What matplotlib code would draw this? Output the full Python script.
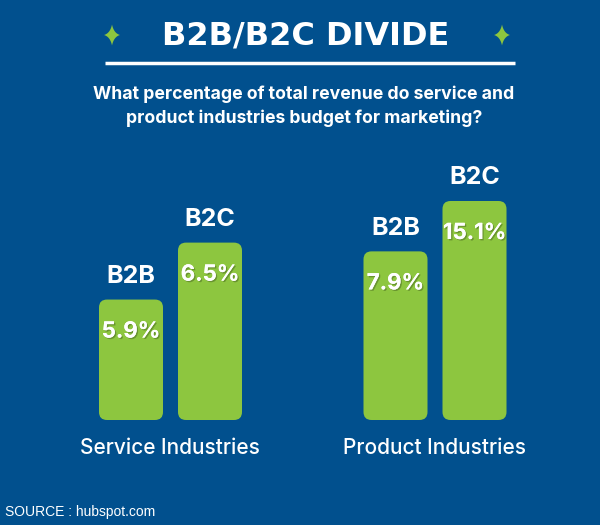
import matplotlib
matplotlib.use("Agg")
import matplotlib.pyplot as plt
from matplotlib.patches import FancyBboxPatch
import matplotlib.patheffects as pe
import numpy as np

# ---- data ----
groups = ["Service Industries", "Product Industries"]
series = ["B2B", "B2C"]
values = [[5.9, 6.5], [7.9, 15.1]]          # % of revenue shown on bars
bar_heights = [[55, 81], [77, 100]]          # drawn bar heights (relative)
title = "B2B/B2C DIVIDE"
subtitle = "What percentage of total revenue do service and\nproduct industries budget for marketing?"
source = "SOURCE : hubspot.com"

BG = "#01508e"
GREEN = "#8dc63f"
W, H = 600, 525

fig = plt.figure(figsize=(W / 100, H / 100), dpi=100)
fig.patch.set_facecolor(BG)

ax = fig.add_axes([0, 0, 1, 1])
ax.set_facecolor(BG)
ax.axis("off")
px_per_unit = 219 / 100.0
base_px = 420  # from top
ax.set_xlim(0, W)
ax.set_ylim(-(H - base_px) / px_per_unit, base_px / px_per_unit)

group_centers = [170, 434.5]
offsets = [-39, 40]
bar_w = 64
sans = ["Inter", "DejaVu Sans"]

for gi, g in enumerate(groups):
    for si, s in enumerate(series):
        xc = group_centers[gi] + offsets[si]
        h = bar_heights[gi][si]
        patch = FancyBboxPatch((xc - bar_w / 2, 0), bar_w, h,
                               boxstyle="round,pad=0,rounding_size=8",
                               mutation_aspect=1 / px_per_unit,
                               facecolor=GREEN, edgecolor="none")
        ax.add_patch(patch)
        ax.annotate(f"{values[gi][si]}%", (xc, h), xytext=(0, -32),
                    textcoords="offset pixels", ha="center", va="center",
                    color="white", fontsize=16, fontweight="bold", family=sans,
                    path_effects=[pe.withSimplePatchShadow(offset=(1, -1), alpha=0.25,
                                                           shadow_rgbFace="black"),
                                  pe.Normal()])
        ax.annotate(s, (xc, h), xytext=(0, 23),
                    textcoords="offset pixels", ha="center", va="center",
                    color="white", fontsize=18, fontweight="bold", family=sans)
    fig.text(group_centers[gi] / W, 1 - 448 / H, g, ha="center", va="center",
             color="white", fontsize=15, fontweight="medium", family=sans)

# title
fig.text(306 / W, 1 - 36 / H, title, ha="center", va="center", color="white",
         fontsize=23, fontweight="bold", family=["DejaVu Sans"])
ax.plot([105, 515], [(base_px - 63) / px_per_unit] * 2, color="white", lw=2.5,
        solid_capstyle="butt")


def sparkle(x, y, r=10.5, rw=8, k=1.8):
    t = np.linspace(0, 1, 24)
    pts = []
    tips = [(0, r), (rw, 0), (0, -r), (-rw, 0)]
    for i in range(4):
        a = np.array(tips[i], float)
        b = np.array(tips[(i + 1) % 4], float)
        c = np.sign(a + b) * k
        for tt in t:
            p = (1 - tt) ** 2 * a + 2 * (1 - tt) * tt * c + tt ** 2 * b
            pts.append((x + p[0], (base_px - (y - p[1])) / px_per_unit))
    ax.add_patch(plt.Polygon(pts, closed=True, facecolor=GREEN, edgecolor="none"))


sparkle(112, 35)
sparkle(502, 35)

fig.text(304 / W, 1 - 106 / H, subtitle, ha="center", va="center", color="white",
         fontsize=12.7, fontweight="bold", family=sans, linespacing=1.5)

fig.text(5 / W, 1 - 512 / H, source, ha="left", va="center", color="white",
         fontsize=10, family=["Liberation Sans", "DejaVu Sans"])

fig.savefig("out.png", dpi=100, facecolor=BG)
